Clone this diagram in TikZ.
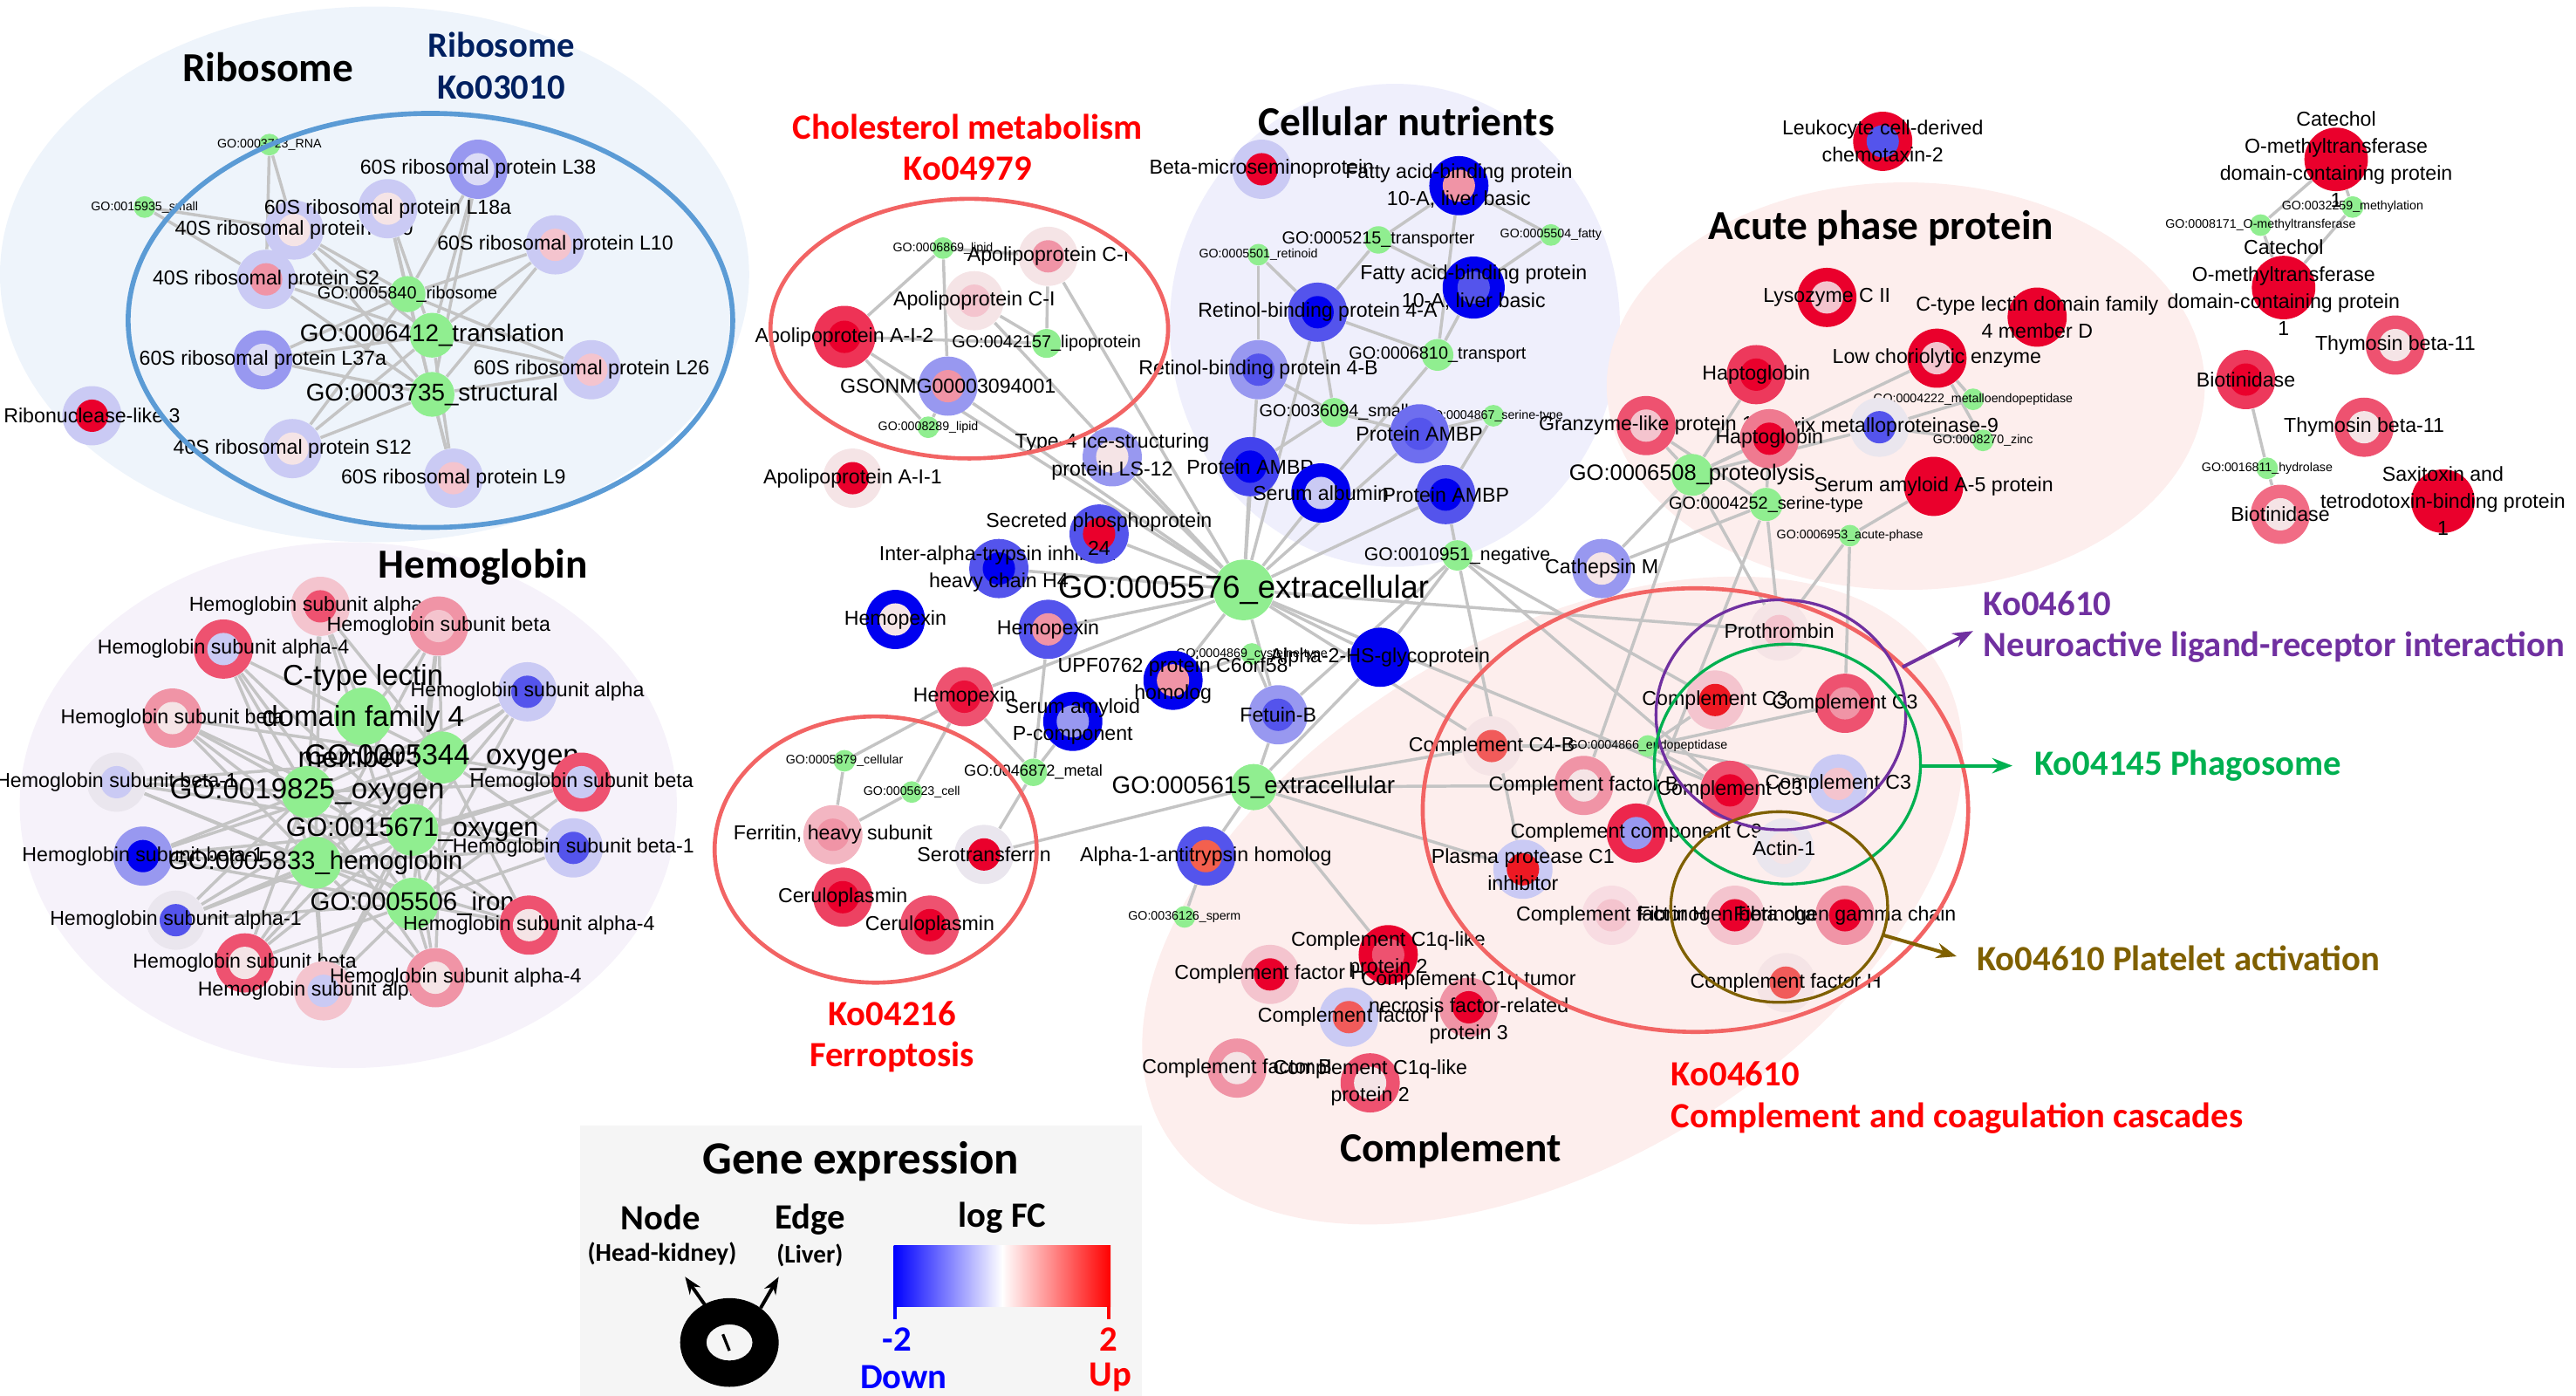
\documentclass[tikz,border=0pt]{standalone}
\usepackage{fontspec}
\setmainfont{Liberation Sans}
\newfontfamily\calibri{Carlito}
\usetikzlibrary{arrows.meta}

% expression colours (blue = down, red = up)
\definecolor{cB3}{RGB}{0,0,240}
\definecolor{cB2}{RGB}{84,84,236}
\definecolor{cB1}{RGB}{152,152,240}
\definecolor{cB0}{RGB}{202,202,244}
\definecolor{cL}{RGB}{220,220,246}
\definecolor{cG}{RGB}{234,230,238}
\definecolor{cW}{RGB}{245,228,230}
\definecolor{cR0}{RGB}{244,196,206}
\definecolor{cR1}{RGB}{240,148,166}
\definecolor{cR2}{RGB}{238,82,112}
\definecolor{cR3}{RGB}{234,0,44}
\definecolor{gogreen}{RGB}{144,238,144}
\definecolor{edgegray}{RGB}{196,196,196}
% cluster backgrounds
\definecolor{ribobg}{RGB}{238,244,251}
\definecolor{hemobg}{RGB}{246,242,250}
\definecolor{nutbg}{RGB}{239,239,252}
\definecolor{pinkbg}{RGB}{253,238,237}
\definecolor{legendbg}{RGB}{245,245,245}
% pathway rings and titles
\definecolor{riboline}{RGB}{91,155,213}
\definecolor{koline}{RGB}{242,100,100}
\definecolor{navytxt}{RGB}{0,32,96}
\definecolor{neuro}{RGB}{112,48,160}
\definecolor{phago}{RGB}{0,176,80}
\definecolor{plat}{RGB}{127,96,0}

\pgfdeclarelayer{bg}
\pgfdeclarelayer{edges}
\pgfsetlayers{bg,edges,main}

\begin{document}
\begin{tikzpicture}[x=0.2mm, y=-0.2mm]
	\tikzstyle{link} = [draw=edgegray, line width=1.05pt]
	\tikzstyle{lbl} = [font=\fontsize{7}{9.4}\selectfont, align=center, inner sep=0pt]
	\tikzstyle{lblxs} = [lbl, font=\fontsize{4.3}{5}\selectfont]
	\tikzstyle{lbls} = [lbl, font=\fontsize{6}{7}\selectfont]
	\tikzstyle{lblb} = [lbl, font=\fontsize{8.4}{10}\selectfont]
	\tikzstyle{lblh} = [lbl, font=\fontsize{10}{14.2}\selectfont]
	\tikzstyle{goterm} = [circle, fill=gogreen, inner sep=0pt, minimum size=7.5pt]
	\tikzstyle{title} = [font=\calibri\bfseries\fontsize{14.3}{16}\selectfont, inner sep=0pt]
	\tikzstyle{kegg} = [font=\calibri\bfseries\fontsize{12.3}{14.3}\selectfont, inner sep=0pt, align=center]
	\tikzstyle{legtxt} = [font=\calibri\bfseries\fontsize{12.3}{14}\selectfont, inner sep=0pt]
	\tikzstyle{koring} = [draw=koline, line width=1.4pt]
	\tikzset{gene/.style 2 args={circle, inner sep=0pt, minimum size=20.5pt, fill=#1,
		path picture={\fill[#2] (path picture bounding box.center) circle (5.6pt);}}}

\useasboundingbox (0,0) rectangle (1568,849.5);

\begin{pgfonlayer}{bg}
\fill [ribobg] (228,167) ellipse (228 and 163);
\fill [hemobg] (212,490) ellipse (200 and 160);
\fill [nutbg] (849,198) ellipse (137 and 147);
\fill [pinkbg] (1160,235) ellipse (182 and 124);
\fill [pinkbg, rotate around={31:(945,548)}] (945,548) ellipse (275 and 160);
\fill [legendbg] (353,685) rectangle (695,849.5);
\end{pgfonlayer}

% ribosome
\node [goterm, label={[lblxs]center:GO:0003723\_RNA}] at (164,88) (rna) {};
\node [goterm, label={[lblxs]center:GO:0015935\_small}] at (88,126) (small) {};
\node [gene={cB0}{cW}, label={[lbl]center:40S ribosomal protein S30}] at (179,140) (rps30) {};
\node [gene={cB1}{cL}, label={[lbl]center:60S ribosomal protein L38}] at (291,103) (rpl38) {};
\node [gene={cB0}{cW}, label={[lbl]center:60S ribosomal protein L18a}] at (236,127) (rpl18a) {};
\node [gene={cB0}{cR0}, label={[lbl]center:60S ribosomal protein L10}] at (338,149) (rpl10) {};
\node [gene={cB0}{cR1}, label={[lbl]center:40S ribosomal protein S2}] at (162,170) (rps2) {};
\node [goterm, minimum size=12.5pt, label={[lbls]center:GO:0005840\_ribosome}] at (248,179) (gorib) {};
\node [goterm, minimum size=15.5pt, label={[lblb]center:GO:0006412\_translation}] at (263,204) (gotrans) {};
\node [gene={cB1}{cL}, label={[lbl]center:60S ribosomal protein L37a}] at (160,219) (rpl37a) {};
\node [gene={cB0}{cR0}, label={[lbl]center:60S ribosomal protein L26}] at (360,225) (rpl26) {};
\node [goterm, minimum size=15.5pt, label={[lblb]center:GO:0003735\_structural}] at (263,240) (gostruct) {};
\node [gene={cB0}{cR3}, label={[lbl]center:Ribonuclease-like 3}] at (56,253) (rnl3) {};
\node [gene={cB0}{cW}, label={[lbl]center:40S ribosomal protein S12}] at (178,273) (rps12) {};
\node [gene={cB0}{cR0}, label={[lbl]center:60S ribosomal protein L9}] at (276,291) (rpl9) {};

% hemoglobin
\node [gene={cR0}{cR2}, label={[lbl, xshift=-5pt]center:Hemoglobin subunit alpha}] at (195,369) (hba1) {};
\node [gene={cR1}{cR0}, label={[lbl]center:Hemoglobin subunit beta}] at (267,381) (hbb1) {};
\node [gene={cR2}{cB0}, label={[lbl]center:Hemoglobin subunit alpha-4}] at (136,395) (hba4a) {};
\node [gene={cB0}{cB2}, label={[lbl]center:Hemoglobin subunit alpha}] at (321,421) (hba) {};
\node [gene={cR1}{cW}, label={[lbl]center:Hemoglobin subunit beta}] at (105,437) (hbb2) {};
\node [goterm, minimum size=20pt, label={[lblh]center:C-type lectin\\domain family 4\\member 5}] at (221,436) (ctl) {};
\node [goterm, minimum size=18pt, label={[lblh]center:GO:0005344\_oxygen}] at (269,461) (go5344) {};
\node [gene={cG}{cB0}, label={[lbl]center:Hemoglobin subunit beta-1}] at (71,476) (hbb1a) {};
\node [gene={cR2}{cB0}, label={[lbl]center:Hemoglobin subunit beta}] at (354,476) (hbb3) {};
\node [goterm, minimum size=18pt, label={[lblh]center:GO:0019825\_oxygen}] at (187,482) (go19825) {};
\node [goterm, minimum size=18pt, label={[lblh, font=\fontsize{9.2}{10}\selectfont]center:GO:0015671\_oxygen}] at (251,505) (go15671) {};
\node [gene={cB1}{cB3}, label={[lbl]center:Hemoglobin subunit beta-1}] at (87,521) (hbb1b) {};
\node [gene={cB0}{cB2}, label={[lbl]center:Hemoglobin subunit beta-1}] at (349,516) (hbb1c) {};
\node [goterm, minimum size=18pt, label={[lblh, font=\fontsize{8.9}{10}\selectfont]center:GO:0005833\_hemoglobin}] at (192,525) (go5833) {};
\node [goterm, minimum size=18pt, label={[lblh, font=\fontsize{8.9}{10}\selectfont]center:GO:0005506\_iron}] at (251,550) (go5506) {};
\node [gene={cG}{cB2}, label={[lbl]center:Hemoglobin subunit alpha-1}] at (107,560) (hba1a) {};
\node [gene={cR2}{cW}, label={[lbl]center:Hemoglobin subunit alpha-4}] at (322,563) (hba4b) {};
\node [gene={cR2}{cW}, label={[lbl]center:Hemoglobin subunit beta}] at (149,586) (hbb4) {};
\node [gene={cR0}{cB0}, label={[lbl]center:Hemoglobin subunit alpha-1}] at (197,603) (hba1b) {};
\node [gene={cR1}{cW}, label={[lbl, xshift=7pt]center:Hemoglobin subunit alpha-4}] at (265,595) (hba4c) {};

% cholesterol metabolism
\node [goterm, label={[lblxs]center:GO:0006869\_lipid}] at (574,151) (lip6869) {};
\node [gene={cW}{cR1}, label={[lbl]center:Apolipoprotein C-I}] at (638,156) (apoc1) {};
\node [gene={cW}{cR0}, label={[lbl]center:Apolipoprotein C-I}] at (593,183) (apoc2) {};
\node [gene={cR3!80!white}{cR3}, minimum size=21.5pt, label={[lbl]center:Apolipoprotein A-I-2}] at (514,205) (apoa2) {};
\node [goterm, minimum size=10pt, label={[lbls]center:GO:0042157\_lipoprotein}] at (637,209) (lipo) {};
\node [gene={cB1}{cR1}, label={[lbl]center:GSONMG00003094001}] at (577,235) (gson) {};
\node [goterm, label={[lblxs]center:GO:0008289\_lipid}] at (565,260) (lip8289) {};
\node [gene={cB1}{cW}, label={[lbl]center:Type-4 ice-structuring\\protein LS-12}] at (677,278) (type4) {};
\node [gene={cW}{cR3}, label={[lbl]center:Apolipoprotein A-I-1}] at (519,291) (apoa1) {};

% cellular nutrients
\node [gene={cB0}{cR3}, label={[lbl]center:Beta-microseminoprotein}] at (768,103) (bmsp) {};
\node [gene={cB3}{cR1}, label={[lbl]center:Fatty acid-binding protein\\10-A, liver basic}] at (888,113) (fabp1) {};
\node [goterm, minimum size=9.5pt, label={[lbls]center:GO:0005215\_transporter}] at (839,146) (transp) {};
\node [goterm, label={[lblxs]center:GO:0005504\_fatty}] at (944,143) (fatty) {};
\node [goterm, label={[lblxs]center:GO:0005501\_retinoid}] at (766,155) (retin) {};
\node [gene={cB3}{cB2}, minimum size=21.5pt, label={[lbl]center:Fatty acid-binding protein\\10-A, liver basic}] at (897,175) (fabp2) {};
\node [gene={cB2}{cB3}, label={[lbl]center:Retinol-binding protein 4-A}] at (802,190) (rbp4a) {};
\node [goterm, minimum size=11pt, label={[lbls]center:GO:0006810\_transport}] at (875,216) (transport) {};
\node [gene={cB1}{cB2}, label={[lbl]center:Retinol-binding protein 4-B}] at (766,225) (rbp4b) {};
\node [goterm, minimum size=10pt, label={[lbls]center:GO:0036094\_small}] at (812,251) (small94) {};
\node [goterm, label={[lblxs]center:GO:0004867\_serine-type}] at (909,253) (ser4867) {};
\node [gene={cB2!85!white}{cB2}, label={[lbl]center:Protein AMBP}] at (864,264) (ambp1) {};
\node [gene={cB2!80!cB3}{cB3}, label={[lbl]center:Protein AMBP}] at (761,284) (ambp2) {};
\node [gene={cB3}{cB0}, label={[lbl]center:Serum albumin}] at (804,300) (alb) {};
\node [gene={cB2}{cB3}, label={[lbl]center:Protein AMBP}] at (880,301) (ambp3) {};

% acute phase protein
\node [gene={cR3}{cB2}, label={[lbl]center:Leukocyte cell-derived\\chemotaxin-2}] at (1146,86) (lect2) {};
\node [gene={cR3}{cR0}, label={[lbl]center:Lysozyme C II}] at (1112,181) (lyz) {};
\node [gene={cR3}{cR3}, label={[lbl]center:C-type lectin domain family\\4 member D}] at (1240,193) (clec4d) {};
\node [gene={cR3}{cR0}, label={[lbl]center:Low choriolytic enzyme}] at (1179,218) (lce) {};
\node [gene={cR2!70!cR3}{cR3}, label={[lbl]center:Haptoglobin}] at (1069,228) (hp1) {};
\node [goterm, label={[lblxs]center:GO:0004222\_metalloendopeptidase}] at (1201,243) (metallo) {};
\node [gene={cR2}{cR0}, label={[lbl]center:Granzyme-like protein 1}] at (1002,259) (gzm) {};
\node [gene={cG}{cB2}, label={[lbl]center:Matrix metalloproteinase-9}] at (1144,260) (mmp9) {};
\node [goterm, label={[lblxs]center:GO:0008270\_zinc}] at (1207,268) (zinc) {};
\node [gene={cR1!60!cR2}{cR3}, label={[lbl]center:Haptoglobin}] at (1077,267) (hp2) {};
\node [goterm, minimum size=14.5pt, label={[lblb, font=\fontsize{7.7}{9}\selectfont]center:GO:0006508\_proteolysis}] at (1030,289) (prot) {};
\node [gene={cR3}{cR3}, label={[lbl]center:Serum amyloid A-5 protein}] at (1177,296) (saa5) {};
\node [goterm, minimum size=11.5pt, label={[lbls]center:GO:0004252\_serine-type}] at (1075,307) (ser4252) {};
\node [goterm, label={[lblxs]center:GO:0006953\_acute-phase}] at (1126,326) (acute) {};
\node [gene={cB1}{cW}, label={[lbl]center:Cathepsin M}] at (975,346) (ctsm) {};

% methyltransferases, thymosin, biotinidase
\node [gene={cR3}{cR3}, minimum size=22pt, label={[lbl]center:Catechol\\O-methyltransferase\\domain-containing protein\\1}] at (1422,97) (comtd1) {};
\node [goterm, label={[lblxs]center:GO:0032259\_methylation}] at (1432,126) (meth) {};
\node [goterm, label={[lblxs]center:GO:0008171\_O-methyltransferase}] at (1376,137) (omt) {};
\node [gene={cR3}{cR3}, minimum size=22pt, label={[lbl]center:Catechol\\O-methyltransferase\\domain-containing protein\\1}] at (1390,175) (comtd2) {};
\node [gene={cR2}{cW}, label={[lbl]center:Thymosin beta-11}] at (1458,210) (tmsb1) {};
\node [gene={cR2!70!cR3}{cR3}, label={[lbl]center:Biotinidase}] at (1367,231) (btd1) {};
\node [gene={cR2}{cW}, label={[lbl]center:Thymosin beta-11}] at (1439,260) (tmsb2) {};
\node [goterm, label={[lblxs]center:GO:0016811\_hydrolase}] at (1380,285) (hydro) {};
\node [gene={cR2!85!white}{cW}, label={[lbl]center:Biotinidase}] at (1388,313) (btd2) {};
\node [gene={cR3}{cR3}, minimum size=22pt, label={[lbl]center:Saxitoxin and\\tetrodotoxin-binding protein\\1}] at (1487,305) (stx) {};

% extracellular hub, ferroptosis
\node [gene={cB2}{cB3}, label={[lbl]center:Inter-alpha-trypsin inhibitor\\heavy chain H4}] at (608,346) (itih4) {};
\node [gene={cB2}{cR3}, label={[lbl]center:Secreted phosphoprotein\\24}] at (669,325) (spp24) {};
\node [goterm, minimum size=21pt, label={[lblh, font=\fontsize{11}{12}\selectfont]center:GO:0005576\_extracellular}] at (757,359) (ext) {};
\node [gene={cB3}{cW}, label={[lbl]center:Hemopexin}] at (545,377) (hpx1) {};
\node [gene={cB2}{cR1}, label={[lbl]center:Hemopexin}] at (638,383) (hpx2) {};
\node [goterm, label={[lblxs]center:GO:0004869\_cysteine-type}] at (762,398) (cys) {};
\node [gene={cB3}{cB3}, label={[lbl]center:Alpha-2-HS-glycoprotein}] at (840,400) (ahsg) {};
\node [gene={cB3}{cR1}, label={[lbl]center:UPF0762 protein C6orf58\\homolog}] at (714,414) (upf) {};
\node [gene={cR2}{cR3!80!cR2}, label={[lbl]center:Hemopexin}] at (587,424) (hpx3) {};
\node [gene={cB3}{cB1}, label={[lbl]center:Serum amyloid\\P-component}] at (653,439) (apcs) {};
\node [gene={cB1}{cB2}, label={[lbl]center:Fetuin-B}] at (778,435) (fetub) {};
\node [goterm, label={[lblxs]center:GO:0005879\_cellular}] at (514,463) (cellular) {};
\node [goterm, minimum size=9.5pt, label={[lbls, font=\fontsize{5.5}{7}\selectfont]center:GO:0046872\_metal}] at (629,470) (metal) {};
\node [goterm, minimum size=16pt, label={[lblb]center:GO:0005615\_extracellular}] at (763,479) (ext2) {};
\node [goterm, label={[lblxs]center:GO:0005623\_cell}] at (555,482) (cell) {};
\node [gene={cR0!70!cR1}{cR1}, label={[lbl]center:Ferritin, heavy subunit}] at (507,508) (fth) {};
\node [gene={cG}{cR3}, label={[lbl]center:Serotransferrin}] at (599,520) (tf) {};
\node [gene={cB2}{cR2!70!orange}, label={[lbl]center:Alpha-1-antitrypsin homolog}] at (734,521) (a1at) {};
\node [gene={cR2!80!cR3}{cR3}, label={[lbl]center:Ceruloplasmin}] at (513,546) (cp1) {};
\node [gene={cR2}{cR3}, label={[lbl]center:Ceruloplasmin}] at (566,563) (cp2) {};
\node [goterm, label={[lblxs]center:GO:0036126\_sperm}] at (721,558) (sperm) {};

% complement
\node [goterm, minimum size=10.5pt, label={[lbls, font=\fontsize{6.4}{7}\selectfont]center:GO:0010951\_negative}] at (887,338) (neg) {};
\node [gene={cW}{cR0}, label={[lbl]center:Prothrombin}] at (1083,384) (pt) {};
\node [gene={cR0}{cR3!80!orange}, label={[lbl]center:Complement C3}] at (1044,426) (c3a) {};
\node [gene={cR2}{cR1}, label={[lbl]center:Complement C3}] at (1123,428) (c3b) {};
\node [gene={cW}{cR2!80!orange}, label={[lbl]center:Complement C4-B}] at (908,454) (c4b) {};
\node [goterm, label={[lblxs]center:GO:0004866\_endopeptidase}] at (1003,454) (endo) {};
\node [gene={cR1}{cW}, label={[lbl]center:Complement factor B}] at (964,478) (cfb) {};
\node [gene={cR2}{cR3}, label={[lbl]center:Complement C3}] at (1053,481) (c3c) {};
\node [gene={cB0}{cR0}, label={[lbl]center:Complement C3}] at (1119,477) (c3d) {};
\node [gene={cR3!85!white}{cB1}, label={[lbl]center:Complement component C9}] at (996,507) (c9) {};
\node [gene={cB0}{cR3!80!orange}, label={[lbl]center:Plasma protease C1\\inhibitor}] at (927,529) (c1inh) {};
\node [gene={cG}{cW}, label={[lbl]center:Actin-1}] at (1086,516) (act) {};
\node [gene={cR0!60!white}{cR0}, label={[lbl]center:Complement factor H}] at (981,557) (cfh1) {};
\node [gene={cR0}{cR3}, label={[lbl]center:Fibrinogen beta chain}] at (1056,557) (fgb) {};
\node [gene={cR1}{cR3}, label={[lbl]center:Fibrinogen gamma chain}] at (1123,557) (fgg) {};
\node [gene={cW}{cR2!80!orange}, label={[lbl]center:Complement factor H}] at (1087,598) (cfh2) {};
\node [gene={cR0}{cR3}, label={[lbl]center:Complement factor H}] at (773,593) (cfx1) {};
\node [gene={cR3}{cR2}, label={[lbl]center:Complement C1q-like\\protein 2}] at (845,581) (c1ql1) {};
\node [gene={cB0}{cR2!80!orange}, label={[lbl]center:Complement factor I}] at (821,619) (cfx2) {};
\node [gene={cR1}{cR3}, label={[lbl]center:Complement C1q tumor\\necrosis factor-related\\protein 3}] at (894,613) (c1qtnf3) {};
\node [gene={cR1}{cW}, label={[lbl]center:Complement factor B}] at (753,650) (cfb2) {};
\node [gene={cR2}{cW}, label={[lbl]center:Complement C1q-like\\protein 2}] at (834,659) (c1ql2) {};

\begin{pgfonlayer}{edges}
\foreach \g in {gorib,gotrans,gostruct}
	\foreach \p in {rpl38,rpl18a,rps30,rpl10,rps2,rpl37a,rpl26,rps12,rpl9}
		\path [link] (\g) -- (\p);
\foreach \p in {rps30,rps2} {\path [link] (rna) -- (\p); \path [link] (small) -- (\p);}
\foreach \g in {go5344,go19825,go15671,go5833,go5506}
	\foreach \p in {hba1,hbb1,hba4a,hba,hbb2,hbb1a,hbb3,hbb1b,hbb1c,hba1a,hba4b,hbb4,hba1b,hba4c}
		\path [link] (\g) -- (\p);
\foreach \p in {apoa2,gson,apoc1} \path [link] (lip6869) -- (\p);
\foreach \p in {apoc1,apoc2,apoa2} \path [link] (lipo) -- (\p);
\foreach \p in {apoa2,gson} \path [link] (lip8289) -- (\p);
\foreach \p in {fabp1,fabp2,rbp4a} \path [link] (transp) -- (\p);
\foreach \p in {fabp1,fabp2} \path [link] (fatty) -- (\p);
\foreach \p in {rbp4a,rbp4b} \path [link] (retin) -- (\p);
\foreach \p in {fabp1,fabp2,rbp4a,alb} \path [link] (transport) -- (\p);
\foreach \p in {rbp4a,rbp4b,ambp2,ambp1} \path [link] (small94) -- (\p);
\foreach \p in {ambp1,ambp3} \path [link] (ser4867) -- (\p);
\foreach \p in {apoc1,apoc2,apoa2,gson,type4,rbp4a,rbp4b,ambp1,ambp2,ambp3,alb,spp24,itih4,hpx2,hpx3,upf,fetub,ahsg,pt,c3c,c4b}
	\path [link] (ext) -- (\p);
\foreach \p in {fetub,ahsg,a1at,tf,cfb,c4b,c1inh,c1ql1} \path [link] (ext2) -- (\p);
\foreach \p in {hpx3,hpx2,apcs,tf} \path [link] (metal) -- (\p);
\foreach \p in {hpx3,fth} {\path [link] (cellular) -- (\p); \path [link] (cell) -- (\p);}
\path [link] (sperm) -- (a1at);
\foreach \p in {upf,fetub} \path [link] (cys) -- (\p);
\foreach \p in {gzm,hp1,hp2,mmp9,lce,ctsm,pt,cfb} \path [link] (prot) -- (\p);
\foreach \p in {gzm,hp2,ctsm,pt,c9} \path [link] (ser4252) -- (\p);
\foreach \p in {mmp9,lce} {\path [link] (metallo) -- (\p); \path [link] (zinc) -- (\p);}
\foreach \p in {saa5,pt,c3b} \path [link] (acute) -- (\p);
\foreach \p in {ahsg,fetub,ambp3,c3a,c3c,c1inh} \path [link] (neg) -- (\p);
\foreach \p in {c3a,c3b,c3c,c3d,c4b} \path [link] (endo) -- (\p);
\foreach \p in {comtd1,comtd2} {\path [link] (meth) -- (\p); \path [link] (omt) -- (\p);}
\foreach \p in {btd1,btd2} \path [link] (hydro) -- (\p);
\end{pgfonlayer}

% pathway rings
\draw [draw=riboline, line width=1.7pt] (262,195) ellipse (184 and 126);
\draw [koring] (590,200) ellipse (121 and 79);
\draw [koring] (533,517) ellipse (98 and 81);
\draw [koring] (1032,493) ellipse (166 and 135);
\draw [draw=neuro, line width=1pt] (1084,435) ellipse (76 and 70);
\draw [draw=phago, line width=1pt] (1088,465) ellipse (81 and 73);
\draw [draw=plat, line width=1pt] (1083,552) ellipse (66 and 58);

% titles
\node [title] at (163,41) (tribo) {Ribosome};
\node [kegg, text=navytxt] at (305,40) (tko3010) {Ribosome\\Ko03010};
\node [title] at (294,345) (themo) {Hemoglobin};
\node [kegg, text=red] at (589,89.5) (tchol) {Cholesterol metabolism\\Ko04979};
\node [title] at (856,74) (tnut) {Cellular nutrients};
\node [title] at (1145,139) (tacute) {Acute phase protein};
\node [kegg, text=red] at (543,631) (tferro) {Ko04216\\Ferroptosis};
\node [title] at (883,700) (tcomp) {Complement};
\node [kegg, text=red, anchor=west, align=left] at (1017,668) (tko4610) {Ko04610\\Complement and coagulation cascades};
\node [kegg, text=neuro, anchor=west, align=left] at (1207,381.5) (tneuro) {Ko04610\\Neuroactive ligand-receptor interaction};
\node [kegg, text=phago, anchor=west] at (1238,466) (tphago) {Ko04145 Phagosome};
\node [kegg, text=plat, anchor=west] at (1203,583) (tplat) {Ko04610 Platelet activation};

\coordinate (neuroA) at (1158,406);
\coordinate (neuroB) at (1201,384);
\coordinate (phagoA) at (1168,466);
\coordinate (phagoB) at (1225,466);
\coordinate (platA) at (1146,569);
\coordinate (platB) at (1191,582);
\draw [neuro, line width=1.2pt, -{Stealth[length=7pt]}] (neuroA) -- (neuroB);
\draw [phago, line width=1.2pt, -{Stealth[length=7pt]}] (phagoA) -- (phagoB);
\draw [plat, line width=1.2pt, -{Stealth[length=7pt]}] (platA) -- (platB);

% legend
\node [font=\calibri\bfseries\fontsize{16}{18}\selectfont, inner sep=0pt] at (524,707) (tgene) {Gene expression};
\node [legtxt] at (402,741) (tnode) {Node};
\node [legtxt, font=\calibri\bfseries\fontsize{8.8}{10}\selectfont] at (403,763) (thk) {(Head-kidney)};
\node [legtxt] at (493,742) (tedge) {Edge};
\node [legtxt, font=\calibri\bfseries\fontsize{8.8}{10}\selectfont] at (493,764) (tliver) {(Liver)};
\node [legtxt] at (610,741) (tlogfc) {log FC};
\shade [left color=blue, right color=red, middle color=white] (544,758) rectangle (676,795);
\draw [blue, line width=1.2pt] (545,795) -- (545,803);
\draw [red, line width=1.2pt] (675,795) -- (675,803);
\node [legtxt, text=blue] at (546,815) (tminus) {-2};
\node [legtxt, text=blue] at (550,838) (tdown) {Down};
\node [legtxt, text=red] at (675,815) (tplus) {2};
\node [legtxt, text=red] at (676,838) (tup) {Up};
\fill [black, even odd rule] (444,817) ellipse (30 and 27) (444,817) ellipse (14 and 11);
\draw [line width=1pt] (444,822) -- (440,812);
\coordinate (nodeA) at (429,794);
\coordinate (nodeB) at (417,777);
\coordinate (edgeA) at (463,796);
\coordinate (edgeB) at (474,777);
\draw [line width=1.2pt, -{Stealth[length=6pt]}] (nodeA) -- (nodeB);
\draw [line width=1.2pt, -{Stealth[length=6pt]}] (edgeA) -- (edgeB);
\end{tikzpicture}
\end{document}
